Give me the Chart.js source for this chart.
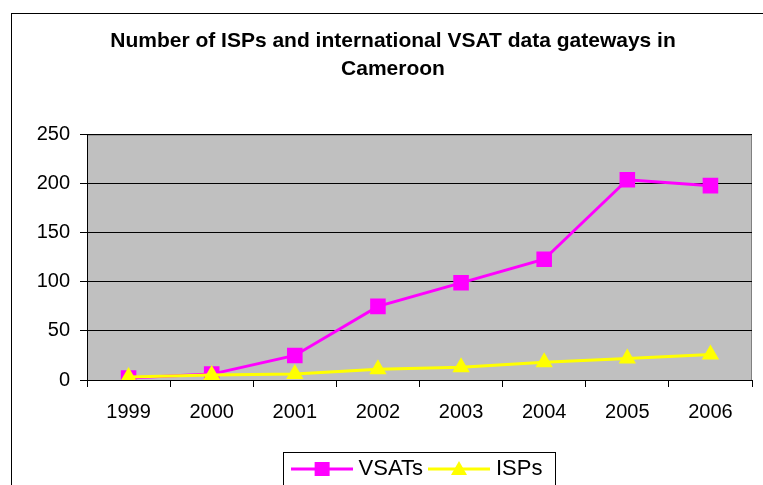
<!DOCTYPE html>
<html>
<head>
<meta charset="utf-8">
<script src="https://cdn.jsdelivr.net/npm/chart.js@4/dist/chart.umd.min.js"></script>
<style>
    html, body { margin: 0; padding: 0; background: #fff; overflow: hidden; }
    #frame { position: absolute; left: 11px; top: 13px; width: 900px; height: 600px; border: 1px solid #000; }
    #wrap { position: absolute; left: 0; top: 0; width: 763px; height: 485px; }
</style>
</head>
<body>
<div id="frame"></div>
<div id="wrap"><canvas id="chart"></canvas></div>
<script>
const years = ['1999', '2000', '2001', '2002', '2003', '2004', '2005', '2006'];
const vsats = [2, 6, 25, 75, 99, 123, 204, 198];
const isps = [3, 5, 6, 11, 13, 18, 22, 26];
const yTicks = [0, 50, 100, 150, 200, 250];

const font = "Arial, 'Liberation Sans', sans-serif";
const magenta = '#ff00ff';
const yellow = '#ffff00';

// legend symbol: line with a marker in the middle, like Excel
function legendSymbol(color, shape) {
    const c = document.createElement('canvas');
    c.width = 62;
    c.height = 20;
    const g = c.getContext('2d');
    g.strokeStyle = color;
    g.lineWidth = 3;
    g.beginPath();
    g.moveTo(0, 10);
    g.lineTo(62, 10);
    g.stroke();
    g.fillStyle = color;
    if (shape === 'rect') {
        g.fillRect(24, 3, 15, 14);
    } else {
        g.beginPath();
        g.moveTo(31, 2);
        g.lineTo(39, 16);
        g.lineTo(23, 16);
        g.closePath();
        g.fill();
    }
    return c;
}

const plotArea = {
    id: 'plotArea',
    beforeDraw(chart) {
        const a = chart.chartArea;
        const ctx = chart.ctx;
        ctx.save();
        ctx.fillStyle = '#c0c0c0';
        ctx.fillRect(a.left, a.top, a.right - a.left, a.bottom - a.top);
        ctx.strokeStyle = '#808080';
        ctx.lineWidth = 1;
        ctx.strokeRect(a.left + 0.5, a.top + 0.5, a.right - a.left - 1, a.bottom - a.top);
        ctx.restore();
    }
};

const legendShift = 26;
const legendBox = {
    id: 'legendBox',
    afterLayout(chart) {
        chart.legend.left += legendShift;
        chart.legend.right += legendShift;
    },
    afterDraw(chart) {
        const lg = chart.legend;
        const pad = lg.options.labels.padding;
        const lineW = lg.lineWidths[0];
        const center = (lg.left + lg.right) / 2;
        const start = center + pad / 2 - lineW / 2;
        const ctx = chart.ctx;
        ctx.save();
        ctx.strokeStyle = '#000';
        ctx.lineWidth = 1;
        ctx.strokeRect(Math.round(start - 13) + 0.5, lg.top + 4.5, Math.round(lineW - pad + 25), 60);
        ctx.restore();
    }
};

new Chart(document.getElementById('chart'), {
    type: 'line',
    data: {
        labels: years,
        datasets: [{
            label: 'VSATs',
            data: vsats,
            borderColor: magenta,
            backgroundColor: magenta,
            borderWidth: 3,
            pointStyle: 'rect',
            pointRadius: 11,
            pointBorderWidth: 0,
            tension: 0,
            order: 2
        }, {
            label: 'ISPs',
            data: isps,
            borderColor: yellow,
            backgroundColor: yellow,
            borderWidth: 3,
            pointStyle: 'triangle',
            pointRadius: 10,
            pointBorderWidth: 0,
            tension: 0,
            order: 1
        }]
    },
    options: {
        responsive: true,
        maintainAspectRatio: false,
        animation: false,
        layout: { padding: { left: 33, right: 10, top: 0, bottom: -5 } },
        plugins: {
            tooltip: { enabled: false },
            title: {
                display: true,
                text: ['Number of ISPs and international VSAT data gateways in', 'Cameroon'],
                color: '#000',
                font: { family: font, size: 21, weight: 'bold', lineHeight: 1.3 },
                padding: { top: 28, bottom: 52 }
            },
            legend: {
                position: 'bottom',
                labels: {
                    color: '#000',
                    font: { family: font, size: 22 },
                    usePointStyle: true,
                    pointStyleWidth: 52,
                    padding: 10,
                    generateLabels() {
                        return [
                            { text: 'VSATs', pointStyle: legendSymbol(magenta, 'rect'), fillStyle: magenta, strokeStyle: magenta, lineWidth: 0, datasetIndex: 0 },
                            { text: 'ISPs', pointStyle: legendSymbol(yellow, 'triangle'), fillStyle: yellow, strokeStyle: yellow, lineWidth: 0, datasetIndex: 1 }
                        ];
                    }
                }
            }
        },
        scales: {
            x: {
                offset: true,
                grid: { offset: true, drawOnChartArea: false, drawTicks: true, tickLength: 7, color: '#000' },
                border: { display: true, color: '#000', width: 1 },
                ticks: { color: '#000', font: { family: font, size: 20 }, padding: 13, maxRotation: 0 },
                afterFit(scale) { scale.height = 68; }
            },
            y: {
                min: 0,
                max: 250,
                afterBuildTicks(scale) { scale.ticks = yTicks.map(v => ({ value: v })); },
                grid: { color: '#000', tickLength: 7 },
                border: { display: true, color: '#000', width: 1 },
                ticks: { color: '#000', font: { family: font, size: 20 }, padding: 10 },
                afterFit(scale) { scale.width = 54; }
            }
        }
    },
    plugins: [plotArea, legendBox]
});
</script>
</body>
</html>
